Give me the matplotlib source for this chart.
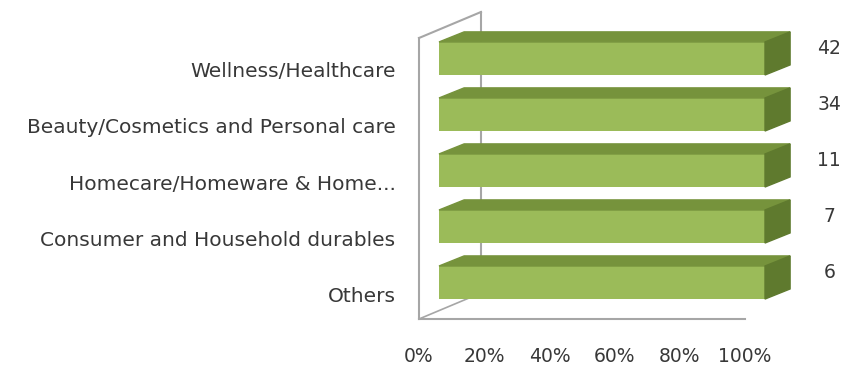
import matplotlib
matplotlib.use("Agg")
from matplotlib import pyplot as plt
from matplotlib.patches import Polygon
from matplotlib.transforms import ScaledTranslation

categories = ["Others", "Consumer and Household durables",
              "Homecare/Homeware & Home...", "Beauty/Cosmetics and Personal care",
              "Wellness/Healthcare"]
values = [6, 7, 11, 34, 42]
ticks = [0, 20, 40, 60, 80, 100]

front = "#9BBB59"
top = "#76933C"
side = "#5F7A2E"
wall = "#A6A6A6"
text = "#383838"

plt.rcParams["font.family"] = ["DejaVu Sans"]

fig = plt.figure(figsize=(8.51, 3.71), dpi=100)
ax = fig.add_axes([419 / 851, 52 / 371, 326 / 851, 281 / 371])
ax.set_xlim(0, 100)
ax.set_ylim(-0.446, 4.571)

# 3d depth of a bar, in data units
dx, dy = 7.7, 0.18
h = 0.59
shift = ax.transData + ScaledTranslation(0.20, 0.115, fig.dpi_scale_trans)

# back wall (left side) and floor edges
wx, wy = 19.0, 0.464
y0, y1 = ax.get_ylim()
ax.plot([wx, wx], [y0 + wy, y1 + wy], color=wall, lw=1.5, clip_on=False, zorder=1)
ax.plot([0, wx], [y1, y1 + wy], color=wall, lw=1.5, clip_on=False, zorder=1)
ax.plot([0, wx], [y0, y0 + wy], color=wall, lw=1.2, clip_on=False, zorder=1)

for i, v in enumerate(values):
    pct = v / v * 100
    ax.barh(i, pct, height=h, color=front, transform=shift, zorder=3, clip_on=False)
    yb, yt = i - h / 2, i + h / 2
    ax.add_patch(Polygon([(0, yt), (pct, yt), (pct + dx, yt + dy), (dx, yt + dy)],
                         closed=True, color=top, transform=shift, zorder=3, clip_on=False))
    ax.add_patch(Polygon([(pct, yb), (pct + dx, yb + dy), (pct + dx, yt + dy), (pct, yt)],
                         closed=True, color=side, transform=shift, zorder=3, clip_on=False))
    ax.text(pct + dx + 12, i + 0.17, str(v), transform=shift, ha="center",
            va="center", fontsize=13.5, color=text, clip_on=False)

for s in ["top", "right"]:
    ax.spines[s].set_visible(False)
ax.spines["left"].set_color(wall)
ax.spines["bottom"].set_color(wall)
ax.spines["left"].set_linewidth(1.5)
ax.spines["bottom"].set_linewidth(1.5)

ax.set_xticks(ticks)
ax.set_xticklabels([f"{t}%" for t in ticks])
ax.set_yticks(range(len(categories)))
ax.set_yticklabels(categories)
ax.tick_params(axis="x", length=0, pad=20, labelsize=13.5, labelcolor=text)
ax.tick_params(axis="y", length=0, pad=17, labelsize=14.5, labelcolor=text)

fig.savefig("out.png", dpi=100)
